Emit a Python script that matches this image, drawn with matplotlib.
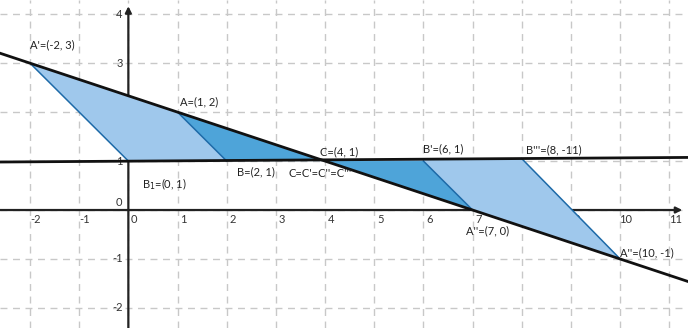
import matplotlib
matplotlib.use("Agg")
from matplotlib import pyplot as plt
from matplotlib.patches import Polygon

plt.rcParams["font.family"] = ["Lato", "DejaVu Sans"]

# triangle vertices
big_left = [(-2, 3), (0, 1), (4, 1)]      # A', B1, C
small_left = [(1, 2), (2, 1), (4, 1)]     # A, B, C
small_right = [(4, 1), (6, 1), (7, 0)]    # C, B', A''
big_right = [(4, 1), (8, 1.05), (10, -1)]  # C, B''', A'''

# long black lines
slant_x = [-2.7, 11.5]
slant_y = [3.233, -1.5]
flat_x = [-2.7, 11.5]
flat_y = [0.98, 1.075]

# blue edges
edges = [[(-2, 3), (0, 1)], [(1, 2), (2, 1)], [(6, 1), (7, 0)], [(8, 1.05), (10, -1)]]

x_ticks = list(range(-2, 12))
y_ticks = [-2, -1, 0, 1, 2, 3, 4]

labels = [
    ("A'=(-2, 3)", -2.0, 3.37),
    ("A=(1, 2)", 1.05, 2.22),
    ("C=(4, 1)", 3.9, 1.18),
    ("B=(2, 1)", 2.2, 0.78),
    ("C=C'=C''=C'''", 3.25, 0.74),
    ("B$_1$=(0, 1)", 0.27, 0.53),
    ("B'=(6, 1)", 6.0, 1.26),
    ("B'''=(8, -11)", 8.08, 1.22),
    ("A''=(7, 0)", 6.87, -0.42),
    ("A''=(10, -1)", 10.0, -0.88),
]

light = "#9fc8ec"
dark = "#4ea4d9"
edge_col = "#1d6aa8"


def main():
    fig = plt.figure(figsize=(6.88, 3.28), dpi=100)
    ax = fig.add_axes([0, 0, 1, 1])
    ax.set_xlim(-2.61, 11.38)
    ax.set_ylim(-2.41, 4.29)
    ax.axis("off")

    for x in x_ticks:
        ax.axvline(x, color="#c8c8c8", lw=1, ls=(0, (5, 4)), zorder=0)
    for y in y_ticks:
        ax.axhline(y, color="#c8c8c8", lw=1, ls=(0, (5, 4)), zorder=0)

    # tick labels (drawn under the shapes)
    for x in x_ticks:
        ax.text(x + 0.12, -0.08, str(x), fontsize=8, color="#333333",
                ha="center", va="top", zorder=1)
    for y in y_ticks:
        if y == 0:
            continue
        ax.text(-0.12, y, str(y), fontsize=8, color="#333333",
                ha="right", va="center", zorder=1)
    ax.text(-0.12, 0.04, "0", fontsize=8, color="#333333",
            ha="right", va="bottom", zorder=1)

    # axes with arrows
    ax.annotate("", xy=(11.32, 0), xytext=(-2.7, 0),
                arrowprops=dict(arrowstyle="-|>", color="#222222", lw=1.6,
                                mutation_scale=9), zorder=2)
    ax.annotate("", xy=(0, 4.22), xytext=(0, -2.5),
                arrowprops=dict(arrowstyle="-|>", color="#222222", lw=1.6,
                                mutation_scale=9), zorder=2)

    ax.add_patch(Polygon(big_left, closed=True, fc=light, ec="none", zorder=3))
    ax.add_patch(Polygon(big_right, closed=True, fc=light, ec="none", zorder=3))
    ax.add_patch(Polygon(small_left, closed=True, fc=dark, ec="none", zorder=4))
    ax.add_patch(Polygon(small_right, closed=True, fc=dark, ec="none", zorder=4))

    for (x0, y0), (x1, y1) in edges:
        ax.plot([x0, x1], [y0, y1], color=edge_col, lw=1.1, zorder=5)

    ax.plot(slant_x, slant_y, color="#111111", lw=2, zorder=6)
    ax.plot(flat_x, flat_y, color="#111111", lw=2, zorder=6)

    for txt, x, y in labels:
        ax.text(x, y, txt, fontsize=8, color="#222222", ha="left",
                va="center", zorder=7)

    fig.savefig("out.png", dpi=100)


if __name__ == "__main__":
    main()
